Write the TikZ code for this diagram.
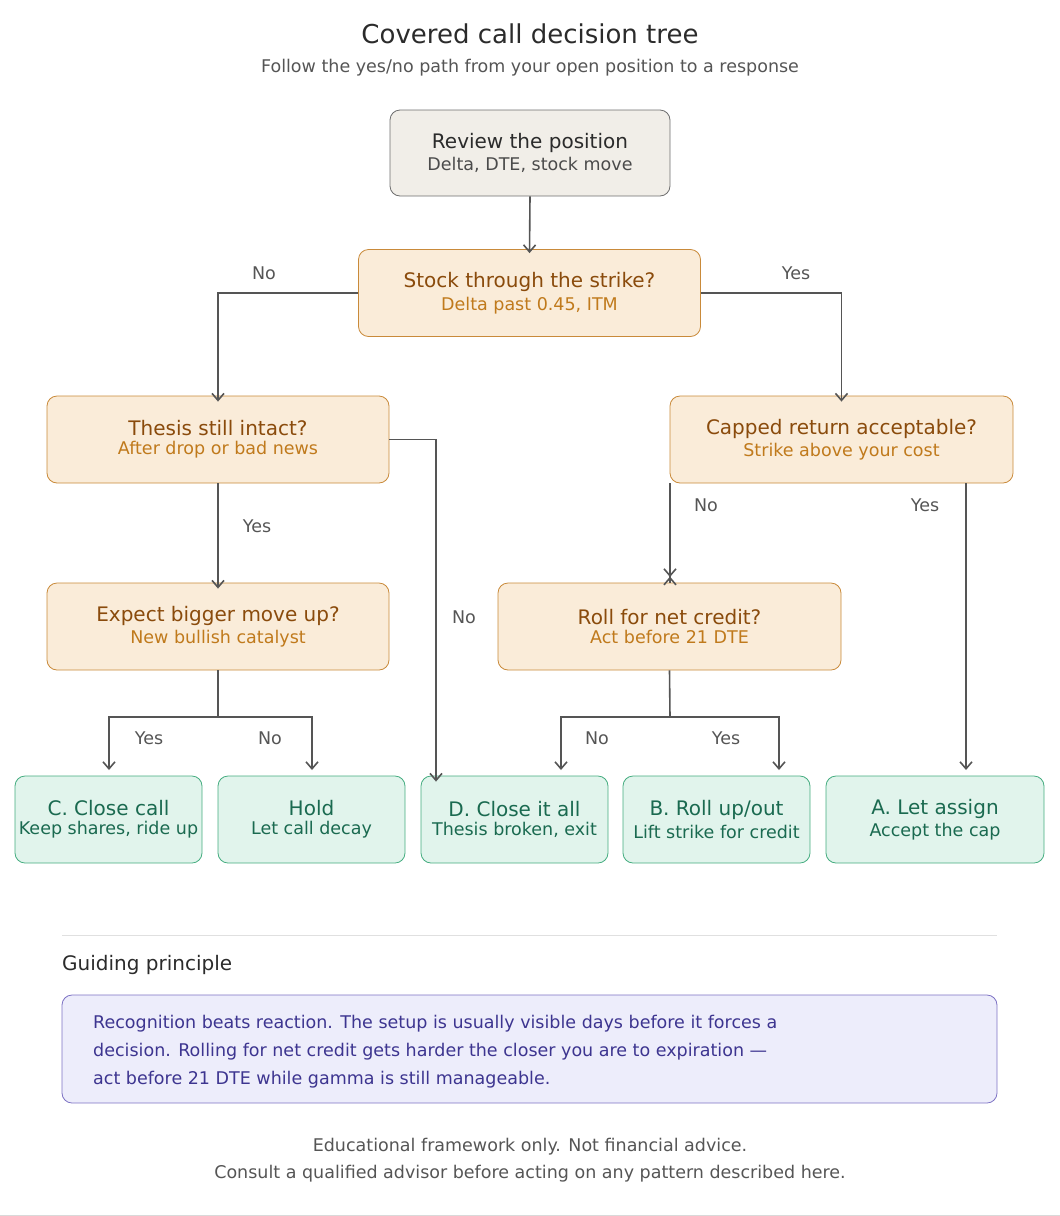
\documentclass[tikz,border=0pt]{standalone}
\usepackage{fontspec}
\setmainfont{DejaVu Sans}
\usetikzlibrary{arrows.meta}
\definecolor{ink}{HTML}{2B2B2B}
\definecolor{sub}{HTML}{555555}
\definecolor{revfill}{HTML}{F1EEE8}
\definecolor{revline}{HTML}{6E6E6E}
\definecolor{qfill}{HTML}{FAECD9}
\definecolor{qline}{HTML}{C98A3A}
\definecolor{qtitle}{HTML}{8A4B0C}
\definecolor{qsub}{HTML}{C07A1C}
\definecolor{lfill}{HTML}{E1F4EC}
\definecolor{lline}{HTML}{45AD80}
\definecolor{ltext}{HTML}{1A6A50}
\definecolor{pfill}{HTML}{EDEDFB}
\definecolor{pline}{HTML}{7D72C4}
\definecolor{ptext}{HTML}{3D3590}
\definecolor{edge}{HTML}{555555}
\tikzset{
  box/.style={rounded corners=10pt, line width=0.8pt, align=center, inner sep=0pt},
  rev/.style={box, fill=revfill, draw=revline, minimum width=280, minimum height=86},
  q/.style={box, fill=qfill, draw=qline, minimum width=342, minimum height=87},
  leaf/.style={box, fill=lfill, draw=lline, minimum width=187, minimum height=87},
  conn/.style={draw=edge, line width=1.6pt, -{Straight Barb[length=7pt,width=12pt]}},
  lab/.style={text=sub, font=\fontsize{17.5}{20}\selectfont},
}
\newcommand{\bx}[3]{{\color{#1}\fontsize{20}{26}\selectfont #2}\\[4pt]{\fontsize{17.5}{22}\selectfont #3}}
\begin{document}
\begin{tikzpicture}[x=1pt,y=-1pt]
\useasboundingbox (0,0) rectangle (1060,1216);
\node (title) at (530,34) {\color{ink}\fontsize{26}{30}\selectfont Covered call decision tree};
\node (subt) at (530,68) {\color{sub}\fontsize{17.5}{20}\selectfont Follow the yes/no path from your open position to a response};

\node[rev] (rev) at (530,153) {\bx{ink}{Review the position}{\color{ink!85}Delta, DTE, stock move}};
\node[q] (stock) at (529.5,293) {\bx{qtitle}{Stock through the strike?}{\color{qsub}Delta past 0.45, ITM}};
\node[q] (thesis) at (218,439.5) {\bx{qtitle}{Thesis still intact?}{\color{qsub}After drop or bad news}};
\node[q, minimum width=343] (capped) at (841.5,439.5) {\bx{qtitle}{Capped return acceptable?}{\color{qsub}Strike above your cost}};
\node[q] (expect) at (218,626.5) {\bx{qtitle}{Expect bigger move up?}{\color{qsub}New bullish catalyst}};
\node[q, minimum width=343] (roll) at (669.5,626.5) {\bx{qtitle}{Roll for net credit?}{\color{qsub}Act before 21 DTE}};

\node[leaf] (C) at (108.5,819.5) {\bx{ltext}{C. Close call}{\color{ltext}Keep shares, ride up}};
\node[leaf] (H) at (311.5,819.5) {\bx{ltext}{Hold}{\color{ltext}Let call decay}};
\node[leaf] (D) at (514.5,819.5) {\bx{ltext}{D. Close it all}{\color{ltext}Thesis broken, exit}};
\node[leaf] (B) at (716.5,819.5) {\bx{ltext}{B. Roll up/out}{\color{ltext}Lift strike for credit}};
\node[leaf, minimum width=218] (A) at (935,819.5) {\bx{ltext}{A. Let assign}{\color{ltext}Accept the cap}};

\draw[conn] (rev.south) -- ([yshift=-4pt]stock.north);
\draw[conn] (stock.west) -| ([yshift=-6pt]thesis.north);
\node[lab] at (264,273) {No};
\draw[conn] (stock.east) -| ([yshift=-6pt]capped.north);
\node[lab] at (796,273) {Yes};
\draw[conn] (thesis.south) -- ([yshift=-6pt]expect.north);
\node[lab] at (257,526) {Yes};
\draw[conn] ([yshift=0pt]thesis.east) -| ([yshift=-6pt]D.north west -| 436,0);
\coordinate (dtop) at (436,770);
\node[lab] at (464,617) {No};
\coordinate (capL) at (670,483);
\coordinate (capR) at (966,483);
\draw[conn] (capL) -- (roll.north -| capL) ++(0,-6);
\draw[conn] (capL) -- (670,577);
\node[lab] at (706,505) {No};
\draw[conn] (capR) -- (966,770);
\node[lab] at (925,505) {Yes};

\coordinate (ej) at (218,717);
\draw[conn] (expect.south) -- (ej) -| (109,770);
\draw[conn] (ej) -| (312,770);
\node[lab] at (149,738) {Yes};
\node[lab] at (270,738) {No};
\coordinate (rj) at (670,717);
\draw[conn] (roll.south) -- (rj) -| (561,770);
\draw[conn] (rj) -| (779,770);
\node[lab] at (597,738) {No};
\node[lab] at (726,738) {Yes};

\draw[black!12, line width=1pt] (62,935) -- (997,935);
\node[anchor=west, inner sep=0pt] (gp) at (62,965) {\color{ink}\fontsize{20}{24}\selectfont Guiding principle};
\node[draw=pline, fill=pfill, rounded corners=10pt, line width=0.8pt, minimum width=935, minimum height=108, inner sep=0pt] (pbox) at (529.5,1049) {};
\node[anchor=north west, inner sep=0pt, align=left, text=ptext, font=\fontsize{17.5}{28}\selectfont] (ptxt) at (93,1015) {Recognition beats reaction. The setup is usually visible days before it forces a\\decision. Rolling for net credit gets harder the closer you are to expiration —\\act before 21 DTE while gamma is still manageable.};
\node[text=sub, font=\fontsize{17.5}{20}\selectfont] (f1) at (530,1147) {Educational framework only. Not financial advice.};
\node[text=sub, font=\fontsize{17.5}{20}\selectfont] (f2) at (530,1174) {Consult a qualified advisor before acting on any pattern described here.};
\draw[black!15, line width=1pt] (0,1215) -- (1060,1215);
\end{tikzpicture}
\end{document}
